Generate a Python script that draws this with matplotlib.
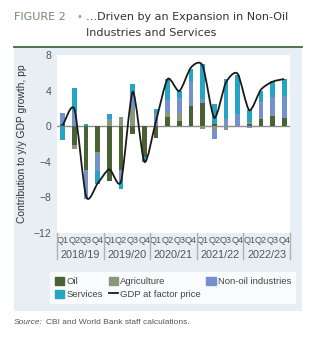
import numpy as np
import matplotlib
matplotlib.use("Agg")
import matplotlib.pyplot as plt
from matplotlib.path import Path
from matplotlib.patches import PathPatch, Rectangle, Patch
from matplotlib.lines import Line2D
from matplotlib import font_manager
import matplotlib.transforms as mtransforms

# quarterly contributions to y/y GDP growth, pp
quarters = ["Q1", "Q2", "Q3", "Q4"] * 5
years = ["2018/19", "2019/20", "2020/21", "2021/22", "2022/23"]

oil = [0.2, -2.1, -4.9, -2.86, -6.2, -4.9, -0.84, -3.5, -1.3, 1.07,
       0.61, 2.32, 2.6, 0.3, 0.0, 0.0, 0.3, 0.76, 1.18, 0.95]
agriculture = [0.0, -0.45, -0.15, -0.24, 0.57, 1.07, 2.0, 0.0, 0.0, 0.5,
               0.84, 0.0, -0.27, -0.46, -0.42, -0.05, 0.2, 0.12, 0.05, 0.0]
non_oil = [1.32, 1.6, -3.15, -1.9, 0.19, -1.1, 1.6, 0.0, 1.45, 1.34,
           1.71, 2.7, 0.5, -1.03, 0.76, 1.33, -0.15, 1.82, 2.06, 2.44]
services = [-1.52, 2.7, 0.2, -1.5, 0.61, -1.1, 1.1, -0.5, 0.5, 2.36,
            0.76, 1.45, 3.9, 2.18, 4.5, 4.42, 1.33, 1.3, 1.75, 1.87]
gdp = [0.1, 1.9, -7.9, -6.4, -4.85, -6.2, 3.85, -4.0, 0.6, 5.3,
       3.95, 6.6, 6.8, 0.95, 4.9, 5.9, 1.8, 4.1, 5.0, 5.3]

series = [("Oil", oil, "#4a6135"),
          ("Agriculture", agriculture, "#8a977a"),
          ("Non-oil industries", non_oil, "#7391cf"),
          ("Services", services, "#27a4c4")]


def pick_font(*names):
    have = {f.name for f in font_manager.fontManager.ttflist}
    for n in names:
        if n in have:
            return n
    return "DejaVu Sans"


narrow = pick_font("Liberation Sans Narrow", "Liberation Sans")
title_font = "DejaVu Sans"


def smooth_path(xs, ys, k=8.0):
    # smoothed curve through the points, built from cubic Bezier pieces
    pts = np.column_stack([xs, ys]).astype(float)
    ext = np.vstack([pts[0], pts, pts[-1]])
    verts = [pts[0]]
    codes = [Path.MOVETO]
    for i in range(len(pts) - 1):
        p0, p1, p2, p3 = ext[i], ext[i + 1], ext[i + 2], ext[i + 3]
        verts += [p1 + (p2 - p0) / k, p2 - (p3 - p1) / k, p2]
        codes += [Path.CURVE4] * 3
    return Path(verts, codes)


fig = plt.figure(figsize=(3.22, 3.38), dpi=100)
W, H = 322, 338

# shaded panel behind the chart
fig.patches.append(Rectangle((14 / W, 1 - 311 / H), 288 / W, 264 / H,
                             transform=fig.transFigure, facecolor="#e7eff5",
                             edgecolor="none", zorder=-5))
fig.add_artist(Line2D([14 / W, 302 / W], [1 - 46.5 / H, 1 - 46.5 / H],
                      transform=fig.transFigure, color="#3f6b3a", lw=1.3))

fig.text(14 / W, 1 - 17 / H, "FIGURE 2", color="#6d8c6a", fontsize=8.0,
         family=title_font, va="center")
fig.text(76 / W, 1 - 17 / H, "\u2022", color="#7fa3bd", fontsize=7,
         family=title_font, va="center")
fig.text(86 / W, 1 - 17 / H, "\u2026Driven by an Expansion in Non-Oil",
         color="#333333", fontsize=8.0, family=title_font, va="center")
fig.text(86 / W, 1 - 33 / H, "Industries and Services",
         color="#333333", fontsize=8.0, family=title_font, va="center")

ax = fig.add_axes([57 / W, 1 - 233 / H, 233 / W, 178 / H], zorder=2)
ax.set_facecolor("white")

x = np.arange(len(quarters))
pos_base = np.zeros(len(x))
neg_base = np.zeros(len(x))
for name, vals, color in series:
    v = np.array(vals)
    base = np.where(v >= 0, pos_base, neg_base)
    ax.bar(x, v, width=0.4, bottom=base, color=color, zorder=2)
    pos_base += np.where(v >= 0, v, 0)
    neg_base += np.where(v < 0, v, 0)

ax.axhline(0, color="#8c8c8c", lw=1.0, zorder=1)
ax.add_patch(PathPatch(smooth_path(x, gdp), facecolor="none",
                       edgecolor="#1a1a1a", lw=1.3, zorder=3))

ax.set_xlim(-0.5, len(x) - 0.5)
ax.set_ylim(-12, 8)
ax.set_yticks([-12, -8, -4, 0, 4, 8])
ax.set_xticks(x)
ax.set_xticklabels(quarters)
for s in ax.spines.values():
    s.set_visible(False)
ax.tick_params(axis="both", length=0, labelsize=7.5, colors="#555555")
ax.tick_params(axis="y", pad=4)
ax.tick_params(axis="x", pad=2, labelsize=6.6)
for lab in ax.get_xticklabels() + ax.get_yticklabels():
    lab.set_family(narrow)

ax.set_ylabel("Contribution to y/y GDP growth, pp", fontsize=7.4,
              family=narrow, color="#333333", labelpad=5)

# year groups below the quarter labels
trans = mtransforms.blended_transform_factory(ax.transData, ax.transAxes)
for b in np.arange(-0.5, len(x), 4):
    ax.plot([b, b], [0, -0.145], transform=trans, color="#b0b0b0", lw=1,
            clip_on=False)
for i, yr in enumerate(years):
    ax.text(4 * i + 1.5, -0.124, yr, transform=trans, ha="center",
            va="center", fontsize=7.8, family=narrow, color="#555555")

handles = [Patch(color=series[0][2]), Patch(color=series[3][2]),
           Patch(color=series[1][2]),
           Line2D([], [], color="#1a1a1a", lw=1.3),
           Patch(color=series[2][2])]
labels = ["Oil", "Services", "Agriculture", "GDP at factor price",
          "Non-oil industries"]
leg = fig.legend(handles, labels, ncol=3, loc="center",
                 bbox_to_anchor=(173 / W, 1 - 288 / H), frameon=True,
                 fancybox=False, handlelength=1.0,
                 handleheight=1.0, handletextpad=0.2, columnspacing=0.6,
                 labelspacing=0.35, borderpad=0.5, borderaxespad=0,
                 prop={"family": narrow, "size": 6.8})
leg.get_frame().set_facecolor("white")
leg.get_frame().set_edgecolor("none")
for t in leg.get_texts():
    t.set_color("#444444")

src = fig.text(14 / W, 1 - 322 / H, "Source:", fontsize=6.0, style="italic",
               family=narrow, color="#555555", va="center")
fig.canvas.draw()
bb = src.get_window_extent()
fig.text(bb.x1 / W + 3 / W, 1 - 322 / H,
         "CBI and World Bank staff calculations.",
         fontsize=6.0, family=narrow, color="#555555", va="center")

fig.savefig("out.png", dpi=100)
